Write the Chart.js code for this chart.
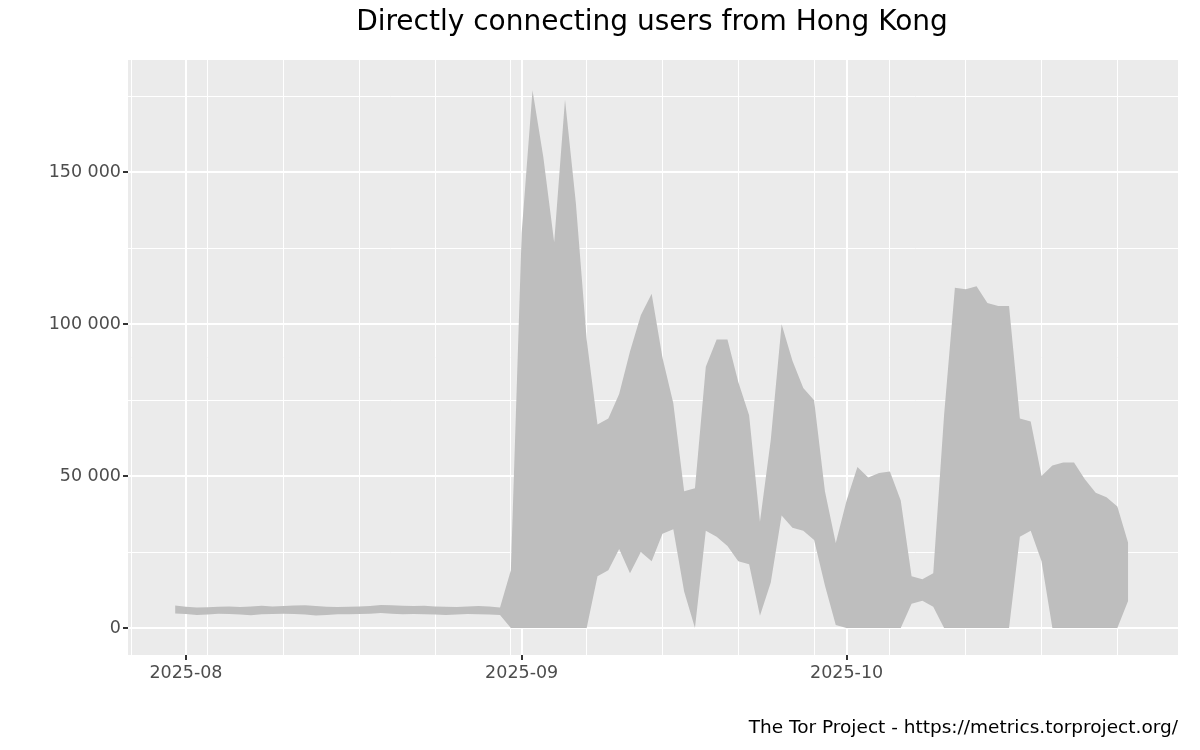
<!DOCTYPE html>
<html><head><meta charset="utf-8">
<script src="https://cdn.jsdelivr.net/npm/chart.js@4"></script>
<style>html,body{margin:0;padding:0;background:#fff}#w{width:1200px;height:750px}</style>
</head><body><div id="w"><canvas id="c"></canvas></div>
<script>
const startDate = '2025-07-31';
const lowerValues = [
 4800,4600,4300,4400,4700,4600,4400,4200,4500,4600,4700,4600,4400,4100,4300,4500,4500,4600,4700,4900,4700,4500,4600,4500,4400,4300,4400,4600,4500,4400,4300,
 0,0,0,0,0,0,0,0,17000,19000,26000,18000,25000,22000,31000,32500,12000,0,32000,30000,27000,22000,21000,4000,15000,37000,33000,32000,29000,14000,1000,
 0,0,0,0,0,0,8000,9000,7000,0,0,0,0,0,0,0,30000,32000,22000,0,0,0,0,0,0,0,9000
];
const upperValues = [
 7400,7000,6700,6800,7000,7100,6900,7100,7300,7100,7200,7400,7500,7200,7000,6900,7000,7100,7200,7600,7500,7300,7200,7300,7100,7000,6900,7100,7200,7100,6700,
 19000,130000,177000,155000,127000,174000,140000,95000,67000,69000,77000,91000,103000,110000,89000,74000,45000,46000,86000,95000,95000,81000,70000,35000,62000,100000,88000,79000,75000,45000,28000,
 42000,53000,49500,51000,51500,42000,17000,16000,18000,70000,112000,111500,112500,107000,106000,106000,69000,68000,50000,53500,54500,54500,49000,44500,43000,40000,28000
];
const yTicks = [0, 50000, 100000, 150000];
const xTickLabels = ['2025-08','2025-09','2025-10'];
const title = 'Directly connecting users from Hong Kong';
const caption = 'The Tor Project - https://metrics.torproject.org/';

const DAY = 86400000;
const t0 = Date.UTC(2025,6,31);
const dayOf = s => { const [y,m,d] = s.split('-').map(Number); return Math.round((Date.UTC(y,m-1,d||1)-t0)/DAY); };
const s0 = dayOf(startDate);
const lowerPts = lowerValues.map((v,i)=>({x:s0+i,y:v}));
const upperPts = upperValues.map((v,i)=>({x:s0+i,y:v}));
const majorX = xTickLabels.map(dayOf);
const minorX = []; for (let d=-4; d<=92; d+=7) minorX.push(d);
const minorY = [25000,75000,125000,175000];

const bg = {id:'bg', beforeDraw(ch){const {ctx,chartArea:a}=ch; ctx.save(); ctx.fillStyle='#ebebeb'; ctx.fillRect(a.left,a.top,a.right-a.left,a.bottom-a.top);
  ctx.fillStyle='#000'; ctx.font='28px "DejaVu Sans"'; ctx.textAlign='center'; ctx.textBaseline='middle'; ctx.fillText(title,652,23);
  ctx.font='18.5px "DejaVu Sans"'; ctx.textAlign='right'; ctx.fillText(caption,1178,728); ctx.restore();}};

new Chart(document.getElementById('c'), {
 type:'line',
 data:{datasets:[
  {data:lowerPts, borderWidth:0, pointRadius:0, fill:false, borderColor:'rgba(0,0,0,0)'},
  {data:upperPts, borderWidth:0, pointRadius:0, fill:'-1', backgroundColor:'#bebebe', borderColor:'rgba(0,0,0,0)'}
 ]},
 options:{animation:false, responsive:true, maintainAspectRatio:false,
  layout:{padding:{top:60,right:22,bottom:55,left:0}},
  plugins:{legend:{display:false},tooltip:{enabled:false}},
  scales:{
   x:{type:'linear', min:-4.35, max:92.6,
    afterBuildTicks(s){ s.ticks = [...minorX.map(v=>({value:v})), ...majorX.map(v=>({value:v,major:true}))]; },
    afterFit(s){ s.height = 40; },
    ticks:{autoSkip:false, maxRotation:0, color:'#4d4d4d', font:{size:17.5,family:'DejaVu Sans'}, padding:3,
      callback(v){ const i = majorX.indexOf(v); return i>=0 ? xTickLabels[i] : ''; }},
    grid:{color:'#ffffff', lineWidth:c=>c.tick&&c.tick.major?2:1, tickLength:5, tickColor:c=>c.tick&&c.tick.major?'#333333':'rgba(0,0,0,0)', drawOnChartArea:true},
    border:{display:false}},
   y:{min:-8900, max:187000,
    afterBuildTicks(s){ s.ticks = [...minorY.map(v=>({value:v})), ...yTicks.map(v=>({value:v,major:true}))]; },
    afterFit(s){ s.width = 128; },
    ticks:{autoSkip:false, color:'#4d4d4d', font:{size:17.5,family:'DejaVu Sans'}, padding:2,
      callback(v){ return yTicks.includes(v) ? String(v).replace(/\B(?=(\d{3})+(?!\d))/g,' ') : ''; }},
    grid:{color:'#ffffff', lineWidth:c=>c.tick&&c.tick.major?2:1, tickLength:5, tickColor:c=>c.tick&&c.tick.major?'#333333':'rgba(0,0,0,0)'},
    border:{display:false}}
  }},
 plugins:[bg]
});
</script></body></html>
